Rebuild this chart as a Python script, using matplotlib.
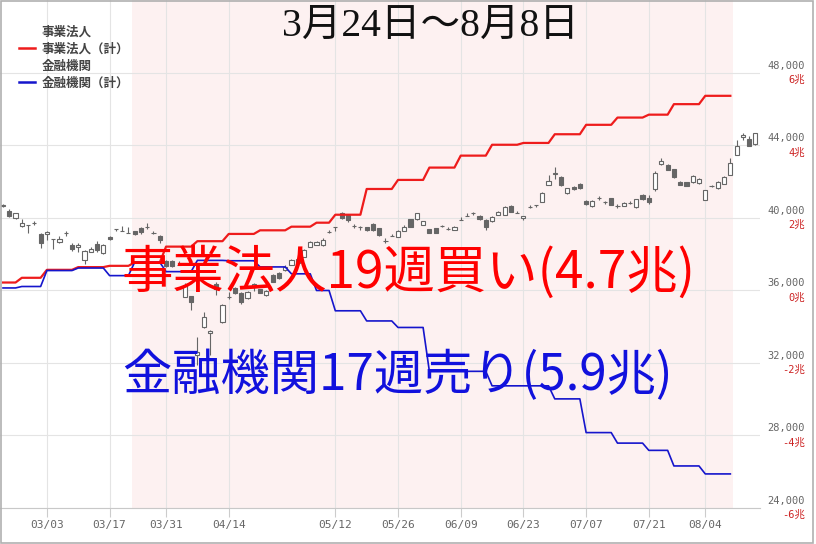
import numpy as np
import matplotlib
matplotlib.use("Agg")
import matplotlib.pyplot as plt
from matplotlib.lines import Line2D
from matplotlib.patches import Rectangle

plt.rcParams['font.family'] = ['Noto Sans CJK JP', 'DejaVu Sans']

# daily candles, trading days only (index 0 = 02/19)
opens = [40680, 40400, 39980, 39560, 39620, 39740, 39120, 39120, 38830, 38660,
         39150, 38510, 38420, 37680, 38140, 38570, 38050, 38970, 39380, 39280,
         39170, 39260, 39430, 39510, 39180, 39020, 37640, 37640, 37400, 35660,
         35700, 32440, 33970, 33640, 36360, 34280, 35620, 36140, 35850, 35570,
         36210, 36070, 35750, 36850, 36970, 37130, 37410, 37520, 37860, 38420,
         38510, 38510, 39240, 39490, 40290, 40160, 39550, 39520, 39500, 39670,
         39430, 38730, 39000, 38970, 39300, 39930, 39930, 39610, 39380, 39430,
         39550, 39370, 39340, 39880, 40100, 40250, 40110, 39890, 39830, 40160,
         40160, 40660, 40290, 39980, 40620, 40720, 40900, 41820, 42450, 42240,
         41360, 41730, 41860, 40950, 40660, 41080, 40900, 41090, 40660, 40660,
         40840, 40590, 41270, 41090, 41580, 42960, 42920, 42680, 42000, 41970,
         41970, 41910, 40990, 41760, 41640, 41880, 42370, 43480, 44450, 44340,
         44070]
highs = [40780, 40500, 40300, 39940, 39640, 39850, 39190, 39280, 38850, 39010,
         39300, 38600, 38600, 38230, 38420, 38750, 38550, 39000, 39400, 39550,
         39500, 39300, 39520, 39710, 39300, 39060, 37700, 37700, 37600, 36400,
         35720, 33450, 34830, 33820, 36490, 35250, 35930, 36200, 35900, 35980,
         36400, 36100, 36030, 36900, 37000, 37400, 37720, 37780, 38280, 38730,
         38720, 38900, 39330, 39500, 40350, 40200, 39650, 39540, 39520, 39700,
         39460, 38900, 39100, 39320, 39600, 39960, 40300, 39860, 39400, 39450,
         39640, 39520, 39550, 40050, 40300, 40350, 40140, 39920, 40100, 40380,
         40650, 40700, 40400, 40130, 40720, 40740, 41420, 42370, 42800, 42300,
         41660, 41760, 41950, 41000, 40990, 41200, 40920, 41120, 40750, 40870,
         40950, 41060, 41300, 41250, 42600, 43290, 42960, 42700, 42030, 42000,
         42350, 42200, 41570, 41830, 42030, 42310, 43290, 44300, 44700, 44500,
         44700]
lows = [40600, 40050, 39950, 39530, 39190, 39600, 38330, 38790, 38270, 38600,
        39010, 38200, 38140, 37460, 38100, 38140, 38000, 38780, 39300, 39260,
        39150, 39080, 39130, 39380, 39100, 38640, 37300, 37280, 37380, 35620,
        34920, 31890, 33930, 32440, 35750, 34200, 35510, 35800, 35250, 35520,
        35950, 35850, 35700, 36450, 36650, 37100, 37380, 37500, 37840, 38400,
        38490, 38480, 39170, 39300, 39950, 39780, 39470, 39350, 39300, 39300,
        39020, 38600, 38990, 38950, 39280, 39500, 39900, 39590, 39160, 39160,
        39480, 39360, 39320, 39870, 40090, 40180, 39900, 39340, 39800, 40140,
        40140, 40320, 40280, 39870, 40540, 40600, 40870, 41800, 42150, 41790,
        41340, 41560, 41610, 40740, 40630, 40990, 40780, 40690, 40550, 40640,
        40750, 40560, 41000, 40750, 41500, 42940, 42620, 42200, 41800, 41760,
        41940, 41890, 40970, 41700, 41610, 41850, 42350, 43450, 44300, 43950,
        44040]
closes = [40690, 40110, 40260, 39720, 39610, 39750, 38600, 39240, 38820, 38840,
          39160, 38270, 38510, 38200, 38270, 38230, 38510, 38820, 39370, 39290,
          39180, 39120, 39240, 39520, 39190, 38790, 37350, 37350, 37410, 36300,
          35380, 32620, 34520, 33780, 36070, 35200, 35620, 35850, 35380, 35930,
          36340, 35880, 35990, 36490, 36690, 37310, 37680, 37740, 38230, 38690,
          38690, 38790, 39250, 39480, 39980, 39890, 39560, 39510, 39340, 39340,
          39060, 38740, 39010, 39280, 39520, 39520, 40260, 39830, 39190, 39190,
          39560, 39380, 39520, 39890, 40110, 40260, 39930, 39520, 40070, 40350,
          40620, 40350, 40290, 40110, 40620, 40710, 41400, 42060, 42460, 41820,
          41640, 41580, 41640, 40770, 40950, 41090, 40900, 40720, 40660, 40840,
          40840, 41030, 41030, 40900, 42500, 43140, 42650, 42240, 41820, 41780,
          42320, 42130, 41540, 41770, 42000, 42280, 43020, 43970, 44580, 43970,
          44670]

# weekly cumulative net buying (trillion yen), trading days in each week
week_days = [3, 4, 5, 5, 4, 5, 5, 5, 5, 5, 4, 3, 5, 5, 5, 5, 5, 5, 5, 5, 5, 5, 4, 5, 5]
corp_cum = [0.22, 0.35, 0.57, 0.645, 0.68, 0.77, 1.21, 1.36, 1.56, 1.66, 1.76, 1.87, 2.09,
            2.80, 3.05, 3.39, 3.72, 4.02, 4.07, 4.31, 4.57, 4.77, 4.85, 5.14, 5.37]
fin_cum = [0.07, 0.11, 0.55, 0.62, 0.41, 0.78, 0.52, 0.83, 0.82, 0.65, 0.46, 0.00, -0.56,
           -0.84, -1.02, -2.23, -2.23, -2.63, -2.63, -2.99, -3.92, -4.21, -4.41, -4.84, -5.06]

tick_idx = [7, 17, 26, 36, 53, 63, 73, 83, 93, 103, 112]
tick_labels = ['03/03', '03/17', '03/31', '04/14', '05/12', '05/26',
               '06/09', '06/23', '07/07', '07/21', '08/04']
price_ticks = [24000, 28000, 32000, 36000, 40000, 44000, 48000]
cho_ticks = [-6, -4, -2, 0, 2, 4, 6]
span_start, span_end = 21, 116  # 3/24 .. 8/8


def main():
    fig = plt.figure(figsize=(8.16, 5.44), dpi=100)
    ax = fig.add_axes([0, 36 / 544, 760 / 816, 508 / 544])

    o = np.array(opens)
    h = np.array(highs)
    l = np.array(lows)
    c = np.array(closes)
    x = np.arange(len(o))
    up = c >= o

    ax.axvspan(span_start - 0.5, span_end + 0.5, color='#fdf1f1', lw=0, zorder=0)

    # candles
    ax.vlines(x, l, h, color='#666666', lw=0.8, zorder=2)
    bot = np.minimum(o, c)
    hgt = np.abs(c - o)
    ax.bar(x[up], hgt[up], 0.66, bottom=bot[up], facecolor='white',
           edgecolor='#666666', lw=0.8, zorder=3)
    ax.bar(x[~up], hgt[~up], 0.66, bottom=bot[~up], facecolor='#666666',
           edgecolor='#666666', lw=0.8, zorder=3)

    ax.set_xlim(-0.48, 120.73)
    ax.set_ylim(24000, 52026)
    ax.set_xticks(tick_idx)
    ax.set_xticklabels(tick_labels, family='DejaVu Sans Mono', fontsize=8, color='#666666')
    ax.set_yticks(price_ticks)
    ax.tick_params(axis='x', length=6.5, width=0.8, color='#cccccc', pad=2)
    ax.tick_params(axis='y', length=0, labelleft=False)
    ax.grid(True, color='#e4e4e4', lw=0.8)
    ax.set_axisbelow(True)
    for s in ['top', 'right', 'left']:
        ax.spines[s].set_visible(False)
    ax.spines['bottom'].set_color('#c8c8c8')

    # cumulative lines on the 兆 scale
    ax2 = ax.twinx()
    y0, y1 = ax.get_ylim()
    ax2.set_ylim((y0 - 36000) / 2000, (y1 - 36000) / 2000)
    days = np.arange(sum(week_days))
    ax2.plot(days, np.repeat(corp_cum, week_days), color='#ee1c1c', lw=1.6, zorder=4)
    ax2.plot(days, np.repeat(fin_cum, week_days), color='#1515cc', lw=1.2, zorder=4)
    ax2.set_yticks([])
    for s in ax2.spines.values():
        s.set_visible(False)

    # right side labels
    for v in price_ticks:
        ax.annotate(f'{v:,}', xy=(1, v), xycoords=('axes fraction', 'data'),
                    xytext=(32.4, 1.5), textcoords='offset points', ha='right', va='bottom',
                    family=['DejaVu Sans Mono', 'Noto Sans CJK JP'], fontsize=7.5, color='#666666')
    for v in cho_ticks:
        ax2.annotate(f'{v}兆', xy=(1, v), xycoords=('axes fraction', 'data'),
                     xytext=(32.4, -1.5), textcoords='offset points', ha='right', va='top',
                     family=['DejaVu Sans Mono', 'Noto Sans CJK JP'], fontsize=7.5, color='#cc2222')

    handles = [Line2D([], [], color='none'),
               Line2D([], [], color='#ee1c1c', lw=1.8),
               Line2D([], [], color='none'),
               Line2D([], [], color='#1515cc', lw=1.8)]
    labels = ['事業法人', '事業法人（計）', '金融機関', '金融機関（計）']
    leg = ax2.legend(handles, labels, loc='upper left', bbox_to_anchor=(0.025, 0.95),
                     frameon=False, borderpad=0, borderaxespad=0, handlelength=1.25,
                     handletextpad=0.55, labelspacing=0.33,
                     prop={'family': 'Noto Sans CJK JP', 'size': 9, 'weight': 'bold'})
    for t in leg.get_texts():
        t.set_color('#444444')

    fig.text(430 / 816, 1 - 26 / 544, '3月24日～8月8日', ha='center', va='center',
             family=['Liberation Serif', 'Noto Sans CJK JP'], fontsize=28.5, color='#111111')
    fig.text(122 / 816, 1 - 273 / 544, '事業法人19週買い(4.7兆)', ha='left', va='center',
             fontsize=37, color='#ff0000', zorder=10)
    fig.text(122 / 816, 1 - 376 / 544, '金融機関17週売り(5.9兆)', ha='left', va='center',
             fontsize=35.5, color='#1111dd', zorder=10)

    fig.patches.append(Rectangle((0.0008, 0.002), 0.995, 0.997, transform=fig.transFigure,
                                 fill=False, edgecolor='#b0b0b0', lw=1.2))

    fig.savefig('out.png', dpi=100)


if __name__ == '__main__':
    main()
